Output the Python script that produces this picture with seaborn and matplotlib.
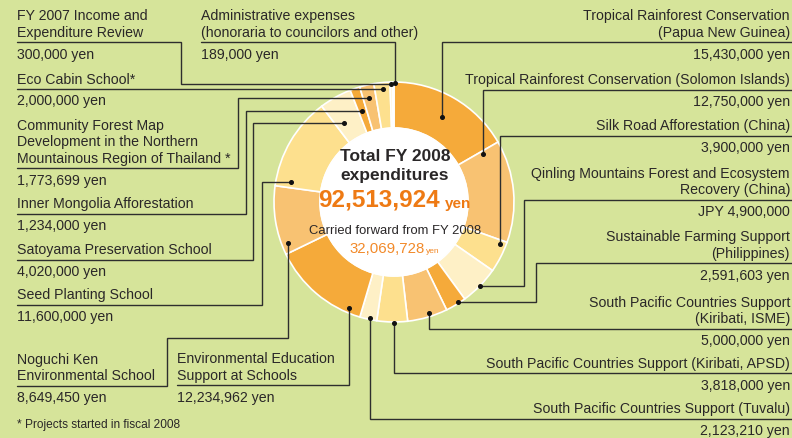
import matplotlib
matplotlib.use("Agg")
import matplotlib.pyplot as plt
import seaborn as sns
from matplotlib import font_manager

# ---- data (clockwise from 12 o'clock) ----
categories = [
    "Tropical Rainforest Conservation\n(Papua New Guinea)",
    "Tropical Rainforest Conservation (Solomon Islands)",
    "Silk Road Afforestation (China)",
    "Qinling Mountains Forest and Ecosystem\nRecovery (China)",
    "Sustainable Farming Support\n(Philippines)",
    "South Pacific Countries Support\n(Kiribati, ISME)",
    "South Pacific Countries Support (Kiribati, APSD)",
    "South Pacific Countries Support (Tuvalu)",
    "Environmental Education\nSupport at Schools",
    "Noguchi Ken\nEnvironmental School",
    "Seed Planting School",
    "Satoyama Preservation School",
    "Inner Mongolia Afforestation",
    "Community Forest Map\nDevelopment in the Northern\nMountainous Region of Thailand *",
    "Eco Cabin School*",
    "FY 2007 Income and\nExpenditure Review",
    "Administrative expenses\n(honoraria to councilors and other)",
]
amounts = [15430000, 12750000, 3900000, 4900000, 2591603, 5000000, 3818000,
           2123210, 12234962, 8649450, 11600000, 4020000, 1234000, 1773699,
           2000000, 300000, 189000]
amount_labels = ["15,430,000 yen", "12,750,000 yen", "3,900,000 yen", "JPY 4,900,000",
                 "2,591,603 yen", "5,000,000 yen", "3,818,000 yen", "2,123,210 yen",
                 "12,234,962 yen", "8,649,450 yen", "11,600,000 yen", "4,020,000 yen",
                 "1,234,000 yen", "1,773,699 yen", "2,000,000 yen", "300,000 yen",
                 "189,000 yen"]
total_label = "92,513,924"
carried_label = "32,069,728"

# ---- style ----
sns.set_theme(style="white")
names = {f.name for f in font_manager.fontManager.ttflist}
plt.rcParams['font.family'] = ['Liberation Sans', 'DejaVu Sans']
narrow = 'Liberation Sans Narrow' in names

bg = '#D6E49A'
ink = '#2a2728'
line_c = '#2e2e2e'
orange = '#EE7A14'
ring = ['#F5AA3A', '#F8C272', '#FDE08E', '#FEF0C6']
colors = [ring[i % 4] for i in range(len(amounts))]
colors[-1] = '#FFF7E4'

fig = plt.figure(figsize=(7.92, 4.39), dpi=100, facecolor=bg)
ax = fig.add_axes([0, 0, 1, 1])
ax.set_facecolor(bg)

cx, cy, r_out, r_in = 394, 203, 120, 74
ax.pie(amounts, colors=colors, startangle=-90, counterclock=True,
       center=(cx, cy), radius=r_out,
       wedgeprops=dict(width=r_out - r_in, edgecolor='white', linewidth=1.2))
ax.add_patch(plt.Circle((cx, cy), r_in, color='white', zorder=3))
ax.set_xlim(0, 792)
ax.set_ylim(439, 0)
ax.set_axis_off()

# ---- callout layout: text x, alignment, connector path (first point = underline start) ----
layout = [
    (790, 'right', [(792, 43.3), (442, 43.3), (442, 117.5)]),
    (790, 'right', [(792, 90.7), (483, 90.7), (483, 155)]),
    (790, 'right', [(792, 136.7), (500, 136.7), (500, 245)]),
    (790, 'right', [(792, 200.7), (524, 200.7), (524, 286.7), (480, 286.7)]),
    (790, 'right', [(792, 264.3), (536, 264.3), (536, 303.3), (458.3, 303.3)]),
    (790, 'right', [(792, 330), (429, 330), (429, 314)]),
    (790, 'right', [(792, 374.3), (394.3, 374.3), (394.3, 324)]),
    (790, 'right', [(792, 420), (369.7, 420), (369.7, 319.3)]),
    (177, 'left', [(177, 386.3), (349.3, 386.3), (349.3, 309)]),
    (17, 'left', [(17, 386.7), (167.3, 386.7), (167.3, 339.3), (287.7, 339.3), (287.7, 244.3)]),
    (17, 'left', [(17, 306), (262.3, 306), (262.3, 183.3), (290.7, 183.3)]),
    (17, 'left', [(17, 261), (252.7, 261), (252.7, 124), (343.5, 124)]),
    (17, 'left', [(17, 215), (245.7, 215), (245.7, 111.7), (361.7, 111.7)]),
    (17, 'left', [(17, 169.3), (237.7, 169.3), (237.7, 99.3), (369.3, 99.3)]),
    (17, 'left', [(17, 90), (383, 90)]),
    (17, 'left', [(17, 43.3), (181, 43.3), (181, 84.5), (390.5, 84.5)]),
    (201, 'left', [(201, 43.3), (394.5, 43.3), (394.5, 84)]),
]

fs = 10.2
for name, amt, (tx, ha, path) in zip(categories, amount_labels, layout):
    uy = path[0][1]
    lines = name.split('\n')
    for k, ln in enumerate(lines):
        y = uy - 10.5 - 16.5 * (len(lines) - 1 - k)
        ax.text(tx, y, ln, ha=ha, va='center', fontsize=fs, color=ink)
    ax.text(tx, uy + 11.5, amt, ha=ha, va='center', fontsize=fs, color=ink)
    xs, ys = zip(*path)
    ax.plot(xs, ys, color=line_c, lw=1.0, solid_joinstyle='miter', zorder=5)
    ax.plot(xs[-1], ys[-1], 'o', color='#111111', ms=2.6, zorder=6)

# ---- centre text ----
ax.text(395, 157, "Total FY 2008", ha='center', va='center', fontsize=12.5,
        fontweight='bold', color=ink, zorder=5)
ax.text(395, 176, "expenditures", ha='center', va='center', fontsize=12.5,
        fontweight='bold', color=ink, zorder=5)
if narrow:
    ax.text(440, 200, total_label, ha='right', va='center', fontsize=21,
            fontweight='bold', color=orange, family='Liberation Sans Narrow', zorder=5)
else:
    ax.text(440, 200, total_label, ha='right', va='center', fontsize=17.5,
            fontweight='bold', color=orange, zorder=5)
ax.text(445, 204, "yen", ha='left', va='center', fontsize=11,
        fontweight='bold', color=orange, zorder=5)
ax.text(395, 231, "Carried forward from FY 2008", ha='center', va='center',
        fontsize=9.4, color=ink, zorder=5)
ax.text(425, 249, carried_label, ha='right', va='center', fontsize=10.8,
        color='#F28A2A', zorder=5)
ax.text(425.5, 252, "yen", ha='left', va='center', fontsize=6,
        color='#F28A2A', zorder=5)

ax.text(17, 425, "* Projects started in fiscal 2008", ha='left', va='center',
        fontsize=8.6, color=ink)

fig.savefig("out.png", dpi=100, facecolor=bg)
